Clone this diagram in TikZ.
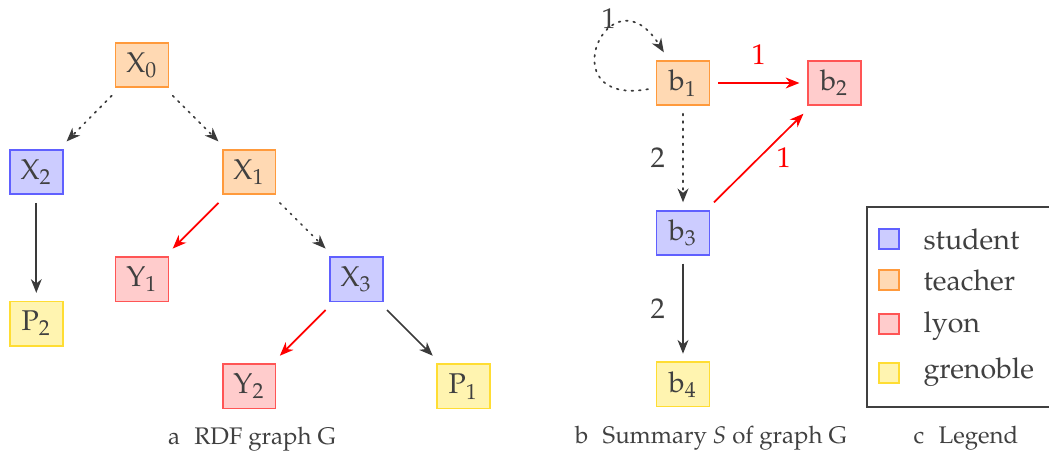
\documentclass[tikz,border=0pt]{standalone}
\usepackage[T1]{fontenc}
\usepackage{mathpazo}
\usepackage{tikz}
\usetikzlibrary{arrows.meta,positioning}
\definecolor{inkgray}{HTML}{404040}
\definecolor{studfill}{HTML}{CCCCFF}
\definecolor{studline}{HTML}{6060FF}
\definecolor{teachfill}{HTML}{FFD9B3}
\definecolor{teachline}{HTML}{FF9A3C}
\definecolor{lyfill}{HTML}{FFCCCC}
\definecolor{lyline}{HTML}{FF5555}
\definecolor{grenfill}{HTML}{FFF4B0}
\definecolor{grenline}{HTML}{FFDD33}

\begin{document}
\begin{tikzpicture}[
			x=0.35pt,y=-0.35pt,on grid,
			every node/.append style={text=inkgray},
			vertex/.style={rectangle,draw,semithick,minimum width=18.5pt,minimum height=15.5pt,inner sep=2pt,outer sep=3pt},
			student/.style={vertex,draw=studline,fill=studfill},
			teacher/.style={vertex,draw=teachline,fill=teachfill},
			lyon/.style={vertex,draw=lyline,fill=lyfill},
			grenoble/.style={vertex,draw=grenline,fill=grenfill},
			arr/.style={-{Stealth[length=4.8pt,width=3.8pt,inset=1.5pt]},semithick,draw=inkgray!90!black},
			dotarr/.style={arr,dotted,line cap=round},
			redarr/.style={arr,draw=red},
			lbl/.style={font=\normalsize,inner sep=1pt},
			legsq/.style={rectangle,draw,thick,minimum size=7pt,inner sep=0pt},
			legtxt/.style={anchor=base west,inner sep=0pt},
			capt/.style={anchor=base,inner sep=0pt,font=\fontsize{8.4}{10}\selectfont}
			]
			\useasboundingbox (0,0) rectangle (1049,455);
			\clip (0,0) rectangle (1049,455);
			% RDF graph
			\node[teacher] (x0) at (142,65) {$\mathrm{X}_0$};
			\node[student] (x2) [below left=37.5pt and 37pt of x0] {$\mathrm{X}_2$};
			\node[teacher] (x1) [below right=37.5pt and 37.5pt of x0] {$\mathrm{X}_1$};
			\node[lyon] (y1) [below left=37.5pt and 37.5pt of x1] {$\mathrm{Y}_1$};
			\node[student] (x3) [below right=37.5pt and 37.5pt of x1] {$\mathrm{X}_3$};
			\node[lyon] (y2) [below left=37.5pt and 37.5pt of x3] {$\mathrm{Y}_2$};
			\node[grenoble] (p1) [below right=37.5pt and 37.5pt of x3] {$\mathrm{P}_1$};
			\node[grenoble] (p2) [below=53pt of x2] {$\mathrm{P}_2$};
			\draw[dotarr] (x0) -- (x2);
			\draw[dotarr] (x0) -- (x1);
			\draw[arr] (x2) -- (p2);
			\draw[redarr] (x1) -- (y1);
			\draw[dotarr] (x1) -- (x3);
			\draw[redarr] (x3) -- (y2);
			\draw[arr] (x3) -- (p1);
			% summary
			\node[teacher] (b1) at (683,83) {$\mathrm{b}_1$};
			\node[lyon] (b2) [right=53pt of b1] {$\mathrm{b}_2$};
			\node[student] (b3) [below=52.5pt of b1] {$\mathrm{b}_3$};
			\node[grenoble] (b4) [below=53pt of b3] {$\mathrm{b}_4$};
			\draw[dotarr] (b1) to[out=190,in=122,looseness=6.5] node[lbl,pos=0.5,above left=4.5pt and -7.5pt] {1} (b1);
			\draw[redarr] (b1) -- node[lbl,above=5pt,text=red] {1} (b2);
			\draw[dotarr] (b1) -- node[lbl,left=5pt] {2} (b3);
			\draw[redarr] (b3) -- node[lbl,right=5pt,text=red] {1} (b2);
			\draw[arr] (b3) -- node[lbl,left=5pt] {2} (b4);
			% legend
			\draw[inkgray,thin] (1100,207) -- (867,207) -- (867,407) -- (1100,407);
			\foreach \name/\y in {stud/239,teach/280,ly/324,gren/373}{
				\node[legsq,draw=\name line,fill=\name fill] (sq-\name) at (889,\y) {};
			}
			\node[legtxt] (t-stud) at (923,249) {student};
			\node[legtxt] (t-teach) at (923,290) {teacher};
			\node[legtxt] (t-ly) at (923,332) {lyon};
			\node[legtxt] (t-gren) at (923,378) {grenoble};
			% captions
			\node[capt] (capa) at (252,444) {a\hspace{5pt}RDF graph G};
			\node[capt] (capb) at (711,443) {b\hspace{5pt}Summary \textit{S} of graph G};
			\node[capt] (capc) at (966,443) {c\hspace{5pt}Legend};
		\end{tikzpicture}
\end{document}
